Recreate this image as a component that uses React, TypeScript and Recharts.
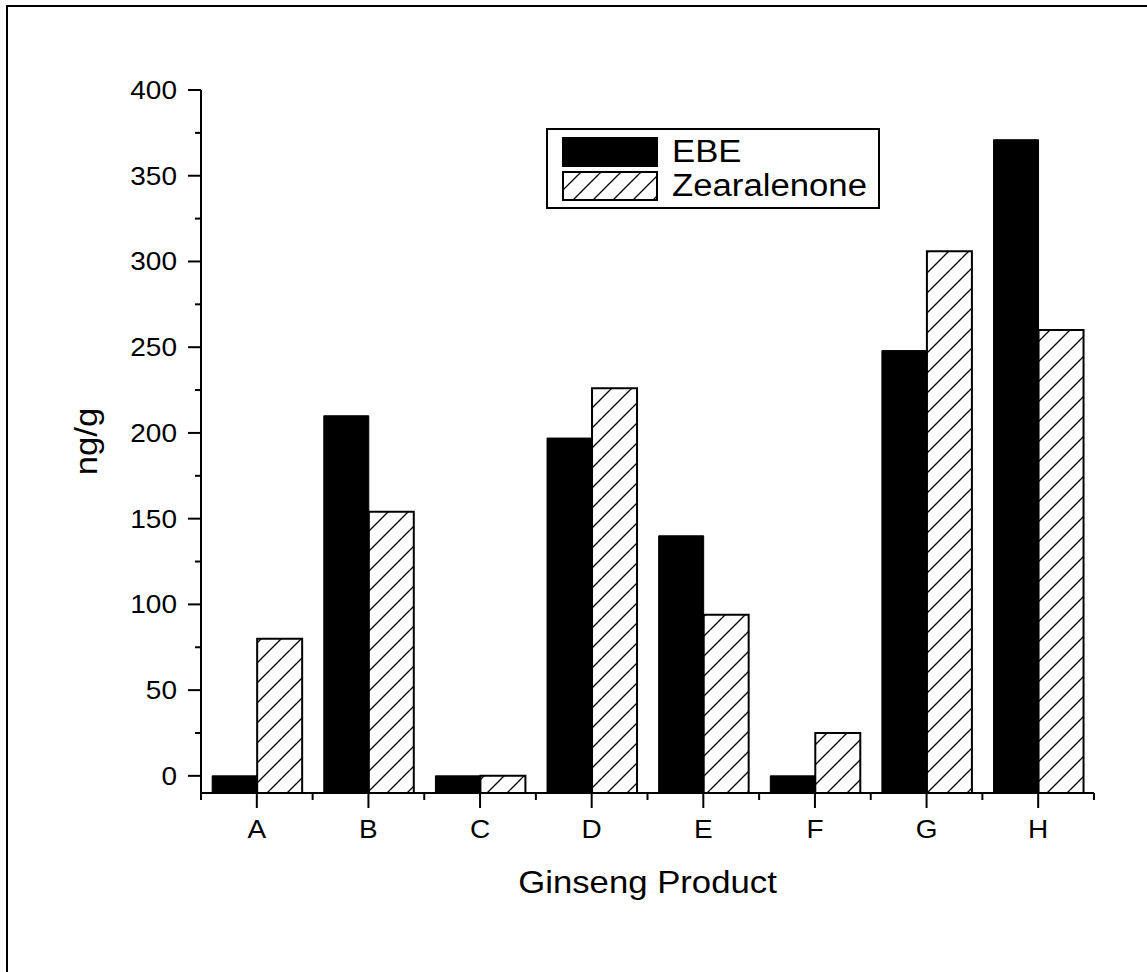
import React from 'react';
import { BarChart, Bar, XAxis, YAxis, Legend } from 'recharts';

const products = ['A', 'B', 'C', 'D', 'E', 'F', 'G', 'H'];
const ebe = [0, 210, 0, 197, 140, 0, 248, 371];
const zearalenone = [80, 154, 0, 226, 94, 25, 306, 260];
const yTicks = [0, 25, 50, 75, 100, 125, 150, 175, 200, 225, 250, 275, 300, 325, 350, 375, 400];
const yLabelled = [0, 50, 100, 150, 200, 250, 300, 350, 400];

const data = products.map((p, i) => ({ product: p, ebe: ebe[i], zea: zearalenone[i] }));

// bars start on the x axis, which sits a little below zero
const FLOOR = -10;
const FONT = '"Liberation Sans", Arial, sans-serif';
// the original export has slightly wide lettering
const SX = 1.12;
const PLOT_LEFT = 201;
const PLOT_RIGHT = 1094;
const BAND = (PLOT_RIGHT - PLOT_LEFT) / products.length;

const Wide = ({ x, y, size, anchor, rotate, children }: any) => (
  <text
    transform={`translate(${x},${y})${rotate ? ` rotate(${rotate})` : ''} scale(${SX},1)`}
    textAnchor={anchor}
    fontSize={size}
    fontFamily={FONT}
    fill="#000"
  >
    {children}
  </text>
);

const YTick = (props: any) => {
  const { x, y, payload } = props;
  const major = yLabelled.includes(payload.value);
  return (
    <g>
      <line x1={x - (major ? 13 : 6)} x2={x} y1={y} y2={y} stroke="#000" strokeWidth={2} />
      {major && (
        <Wide x={x - 24} y={y + 9} size={25} anchor="end">
          {payload.value}
        </Wide>
      )}
    </g>
  );
};

const XTick = (props: any) => {
  const { x, y, payload, index } = props;
  return (
    <g>
      <line x1={x} x2={x} y1={y} y2={y + 15} stroke="#000" strokeWidth={2} />
      <line x1={x - BAND / 2} x2={x - BAND / 2} y1={y} y2={y + 7} stroke="#000" strokeWidth={2} />
      {index === products.length - 1 && (
        <line x1={x + BAND / 2} x2={x + BAND / 2} y1={y} y2={y + 7} stroke="#000" strokeWidth={2} />
      )}
      <Wide x={x} y={y + 45} size={25} anchor="middle">
        {payload.value}
      </Wide>
    </g>
  );
};

const LegendBox = () => (
  <div
    style={{
      border: '2px solid #000',
      background: '#fff',
      padding: '5px 14px 4px',
      fontFamily: FONT,
      fontSize: 31,
      lineHeight: '34px',
      boxSizing: 'border-box',
    }}
  >
    {[
      { name: 'EBE', fill: '#000' },
      { name: 'Zearalenone', fill: 'url(#hatch)' },
    ].map((it) => (
      <div key={it.name} style={{ display: 'flex', alignItems: 'center', height: 34 }}>
        <svg width={96} height={30} style={{ marginRight: 14, flex: 'none' }}>
          <rect x={1} y={1} width={94} height={28} fill={it.fill} stroke="#000" strokeWidth={2} />
        </svg>
        <span style={{ display: 'inline-block', transform: `scaleX(${SX})`, transformOrigin: 'left center', whiteSpace: 'nowrap' }}>
          {it.name}
        </span>
      </div>
    ))}
  </div>
);

export default function App() {
  return (
    <div style={{ position: 'absolute', left: 0, top: 0, width: 1147, height: 972, overflow: 'hidden', background: '#fff' }}>
      <svg width={0} height={0} style={{ position: 'absolute' }}>
        <defs>
          <pattern id="hatch" patternUnits="userSpaceOnUse" width={20} height={20}>
            <path d="M0,20 L20,0 M-5,5 L5,-5 M15,25 L25,15" stroke="#000" strokeWidth={1.3} />
          </pattern>
        </defs>
      </svg>
      <div
        style={{
          position: 'absolute',
          left: 6,
          top: 5,
          width: 1160,
          height: 1000,
          borderLeft: '2px solid #000',
          borderTop: '2px solid #000',
        }}
      />
      <div style={{ position: 'absolute', left: 0, top: 0 }}>
        <BarChart
          width={1147}
          height={972}
          data={data}
          margin={{ top: 90, right: 1147 - PLOT_RIGHT, bottom: 79, left: 1 }}
          barCategoryGap="10%"
          barGap={0}
        >
          <XAxis
            dataKey="product"
            height={100}
            axisLine={{ stroke: '#000', strokeWidth: 2 }}
            tickLine={false}
            tickSize={0}
            tickMargin={0}
            tick={<XTick />}
            interval={0}
            label={{
              content: ({ viewBox }: any) => (
                <Wide x={viewBox.x + viewBox.width / 2} y={viewBox.y + 100} size={31} anchor="middle">
                  Ginseng Product
                </Wide>
              ),
            }}
          />
          <YAxis
            type="number"
            width={200}
            domain={[FLOOR, 400]}
            ticks={yTicks}
            interval={0}
            allowDataOverflow
            axisLine={{ stroke: '#000', strokeWidth: 2 }}
            tickLine={false}
            tickSize={0}
            tickMargin={0}
            tick={<YTick />}
            label={{
              content: ({ viewBox }: any) => (
                <Wide x={97} y={viewBox.y + viewBox.height / 2} size={31} anchor="middle" rotate={-90}>
                  ng/g
                </Wide>
              ),
            }}
          />
          <Legend
            layout="vertical"
            align="center"
            verticalAlign="middle"
            wrapperStyle={{ left: 546, top: 128, width: 334 }}
            content={<LegendBox />}
          />
          <Bar
            name="EBE"
            dataKey={(d: any) => [FLOOR, d.ebe]}
            fill="#000"
            stroke="#000"
            strokeWidth={1}
            isAnimationActive={false}
          />
          <Bar
            name="Zearalenone"
            dataKey={(d: any) => [FLOOR, d.zea]}
            fill="url(#hatch)"
            stroke="#000"
            strokeWidth={2}
            isAnimationActive={false}
          />
        </BarChart>
      </div>
    </div>
  );
}
